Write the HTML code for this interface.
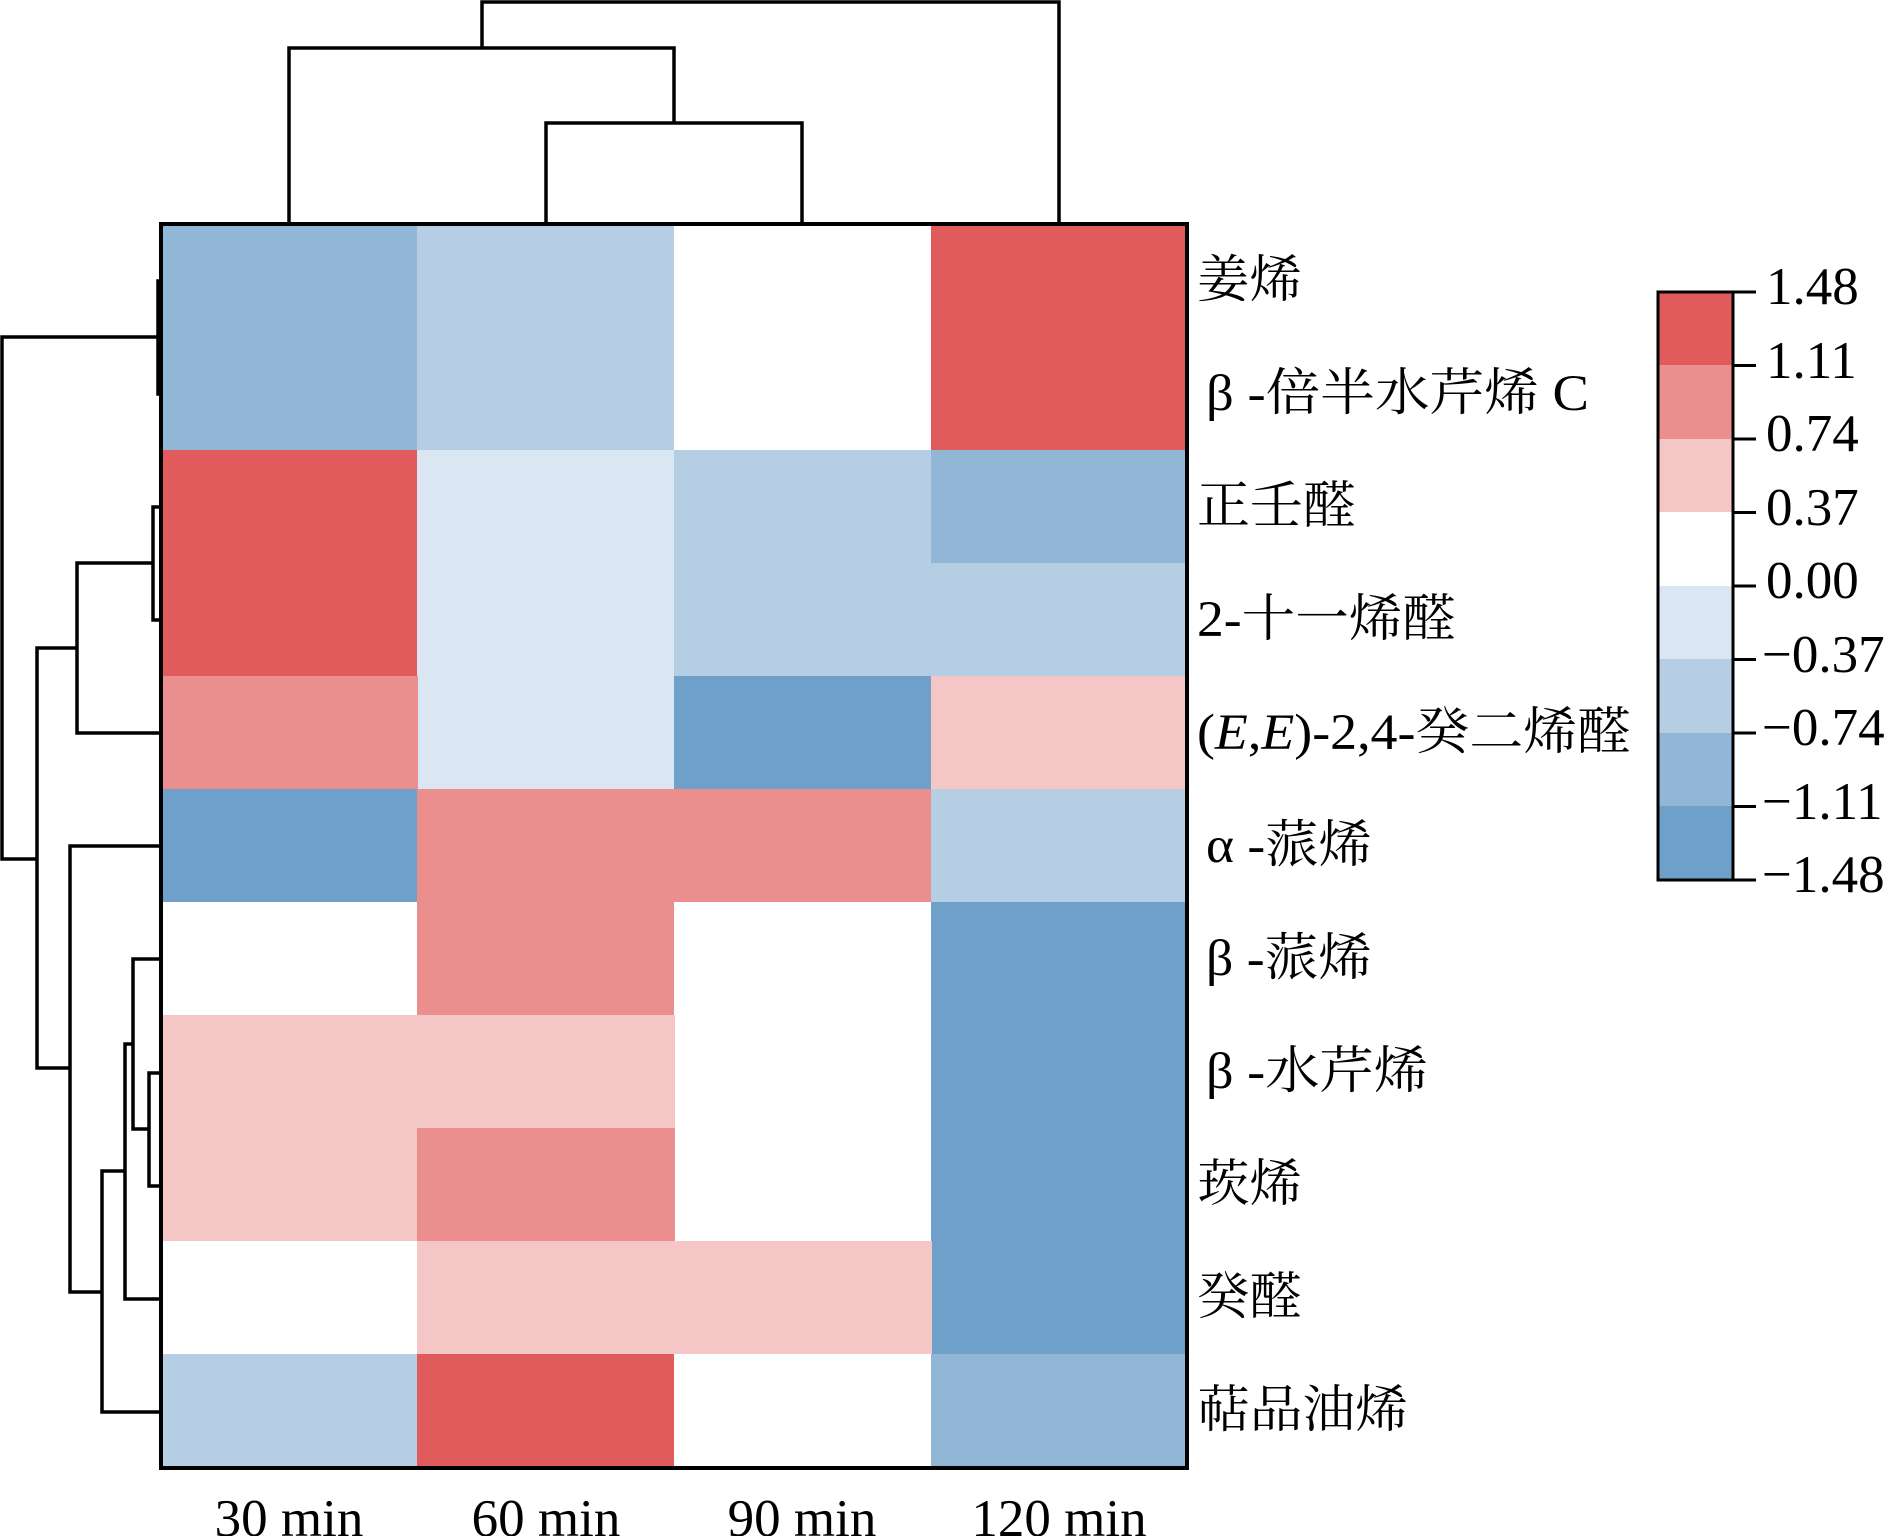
<!DOCTYPE html>
<html><head><meta charset="utf-8"><style>
html,body{margin:0;padding:0;background:#fff;}
svg{display:block;}
text{font-family:"Liberation Serif","Noto Serif CJK SC",serif;fill:#000;}
</style></head><body>
<svg width="1890" height="1536" viewBox="0 0 1890 1536" xmlns="http://www.w3.org/2000/svg">
<g shape-rendering="crispEdges">
<rect x="161" y="224" width="257" height="227" fill="#92b6d6"/>
<rect x="417" y="224" width="258" height="227" fill="#b5cee4"/>
<rect x="674" y="224" width="258" height="227" fill="#ffffff"/>
<rect x="931" y="224" width="256" height="227" fill="#e05c5c"/>
<rect x="161" y="450" width="257" height="227" fill="#e05c5c"/>
<rect x="417" y="450" width="258" height="340" fill="#dae6f2"/>
<rect x="674" y="450" width="258" height="227" fill="#b5cee4"/>
<rect x="931" y="450" width="256" height="114" fill="#92b6d6"/>
<rect x="931" y="563" width="256" height="114" fill="#b5cee4"/>
<rect x="161" y="676" width="257" height="114" fill="#ea8f8e"/>
<rect x="674" y="676" width="258" height="114" fill="#6ea0c9"/>
<rect x="931" y="676" width="256" height="114" fill="#f4c6c6"/>
<rect x="161" y="789" width="257" height="114" fill="#6ea0c9"/>
<rect x="417" y="789" width="515" height="114" fill="#ea8f8e"/>
<rect x="931" y="789" width="256" height="114" fill="#b5cee4"/>
<rect x="161" y="902" width="257" height="114" fill="#ffffff"/>
<rect x="417" y="902" width="258" height="114" fill="#ea8f8e"/>
<rect x="674" y="902" width="258" height="340" fill="#ffffff"/>
<rect x="931" y="902" width="256" height="453" fill="#6ea0c9"/>
<rect x="161" y="1015" width="514" height="114" fill="#f4c6c6"/>
<rect x="161" y="1128" width="257" height="114" fill="#f4c6c6"/>
<rect x="417" y="1128" width="258" height="114" fill="#ea8f8e"/>
<rect x="161" y="1241" width="257" height="114" fill="#ffffff"/>
<rect x="417" y="1241" width="515" height="114" fill="#f4c6c6"/>
<rect x="161" y="1354" width="257" height="114" fill="#b5cee4"/>
<rect x="417" y="1354" width="258" height="114" fill="#e05c5c"/>
<rect x="674" y="1354" width="258" height="114" fill="#ffffff"/>
<rect x="931" y="1354" width="256" height="114" fill="#92b6d6"/>
</g>
<rect x="161" y="224" width="1026" height="1244" fill="none" stroke="#000" stroke-width="4"/>

<g fill="none" stroke="#000" stroke-width="3.5">
<path d="M546 224 V123 H802 V224"/>
<path d="M289 224 V48 H674 V123"/>
<path d="M482 48 V2 H1059 V224"/>
</g>
<g fill="none" stroke="#000" stroke-width="3.5">
<path d="M161 281 H158 V394 H161"/>
<path d="M161 507 H153 V620 H161"/>
<path d="M153 563 H77 V733 H161"/>
<path d="M161 1073 H149 V1186 H161"/>
<path d="M161 959 H133 V1129 H149"/>
<path d="M133 1044 H125 V1299 H161"/>
<path d="M125 1171 H102 V1412 H161"/>
<path d="M161 846 H70 V1292 H102"/>
<path d="M77 648 H37 V1068 H70"/>
<path d="M158 337 H2 V859 H37"/>
</g>

<g font-size="51">
<text x="1197" y="297" textLength="105" lengthAdjust="spacingAndGlyphs">姜烯</text>
<text x="1206" y="410" textLength="383" lengthAdjust="spacingAndGlyphs">β -倍半水芹烯 C</text>
<text x="1197" y="523" textLength="159" lengthAdjust="spacingAndGlyphs">正壬醛</text>
<text x="1197" y="636" textLength="259" lengthAdjust="spacingAndGlyphs">2-十一烯醛</text>
<text x="1197" y="749" textLength="434" lengthAdjust="spacingAndGlyphs">(<tspan font-style="italic">E</tspan>,<tspan font-style="italic">E</tspan>)-2,4-癸二烯醛</text>
<text x="1206" y="862" textLength="166" lengthAdjust="spacingAndGlyphs">α -蒎烯</text>
<text x="1206" y="975" textLength="166" lengthAdjust="spacingAndGlyphs">β -蒎烯</text>
<text x="1206" y="1088" textLength="222" lengthAdjust="spacingAndGlyphs">β -水芹烯</text>
<text x="1197" y="1201" textLength="105" lengthAdjust="spacingAndGlyphs">莰烯</text>
<text x="1197" y="1314" textLength="105" lengthAdjust="spacingAndGlyphs">癸醛</text>
<text x="1197" y="1427" textLength="211" lengthAdjust="spacingAndGlyphs">萜品油烯</text>
</g>
<g font-size="53" text-anchor="middle">
<text x="289" y="1536">30 min</text>
<text x="546" y="1536">60 min</text>
<text x="802" y="1536">90 min</text>
<text x="1059" y="1536">120 min</text>
</g>

<g shape-rendering="crispEdges">
<rect x="1658" y="292" width="75" height="74" fill="#e05c5c"/>
<rect x="1658" y="365" width="75" height="74" fill="#ea8f8e"/>
<rect x="1658" y="439" width="75" height="74" fill="#f4c6c6"/>
<rect x="1658" y="512" width="75" height="74" fill="#ffffff"/>
<rect x="1658" y="586" width="75" height="74" fill="#dae6f2"/>
<rect x="1658" y="659" width="75" height="74" fill="#b5cee4"/>
<rect x="1658" y="733" width="75" height="74" fill="#92b6d6"/>
<rect x="1658" y="806" width="75" height="74" fill="#6ea0c9"/>
</g>
<rect x="1658" y="292" width="75" height="588" fill="none" stroke="#000" stroke-width="3"/>
<g stroke="#000" stroke-width="3">
<path d="M1733 292 H1756 M1733 365.5 H1756 M1733 439 H1756 M1733 512.5 H1756 M1733 586 H1756 M1733 659.5 H1756 M1733 733 H1756 M1733 806.5 H1756 M1733 880 H1756"/>
</g>
<g font-size="53">
<text x="1766" y="304">1.48</text>
<text x="1766" y="378">1.11</text>
<text x="1766" y="451">0.74</text>
<text x="1766" y="525">0.37</text>
<text x="1766" y="598">0.00</text>
<text x="1762" y="672">−0.37</text>
<text x="1762" y="745">−0.74</text>
<text x="1762" y="819">−1.11</text>
<text x="1762" y="892">−1.48</text>
</g>
</svg>
</body></html>
